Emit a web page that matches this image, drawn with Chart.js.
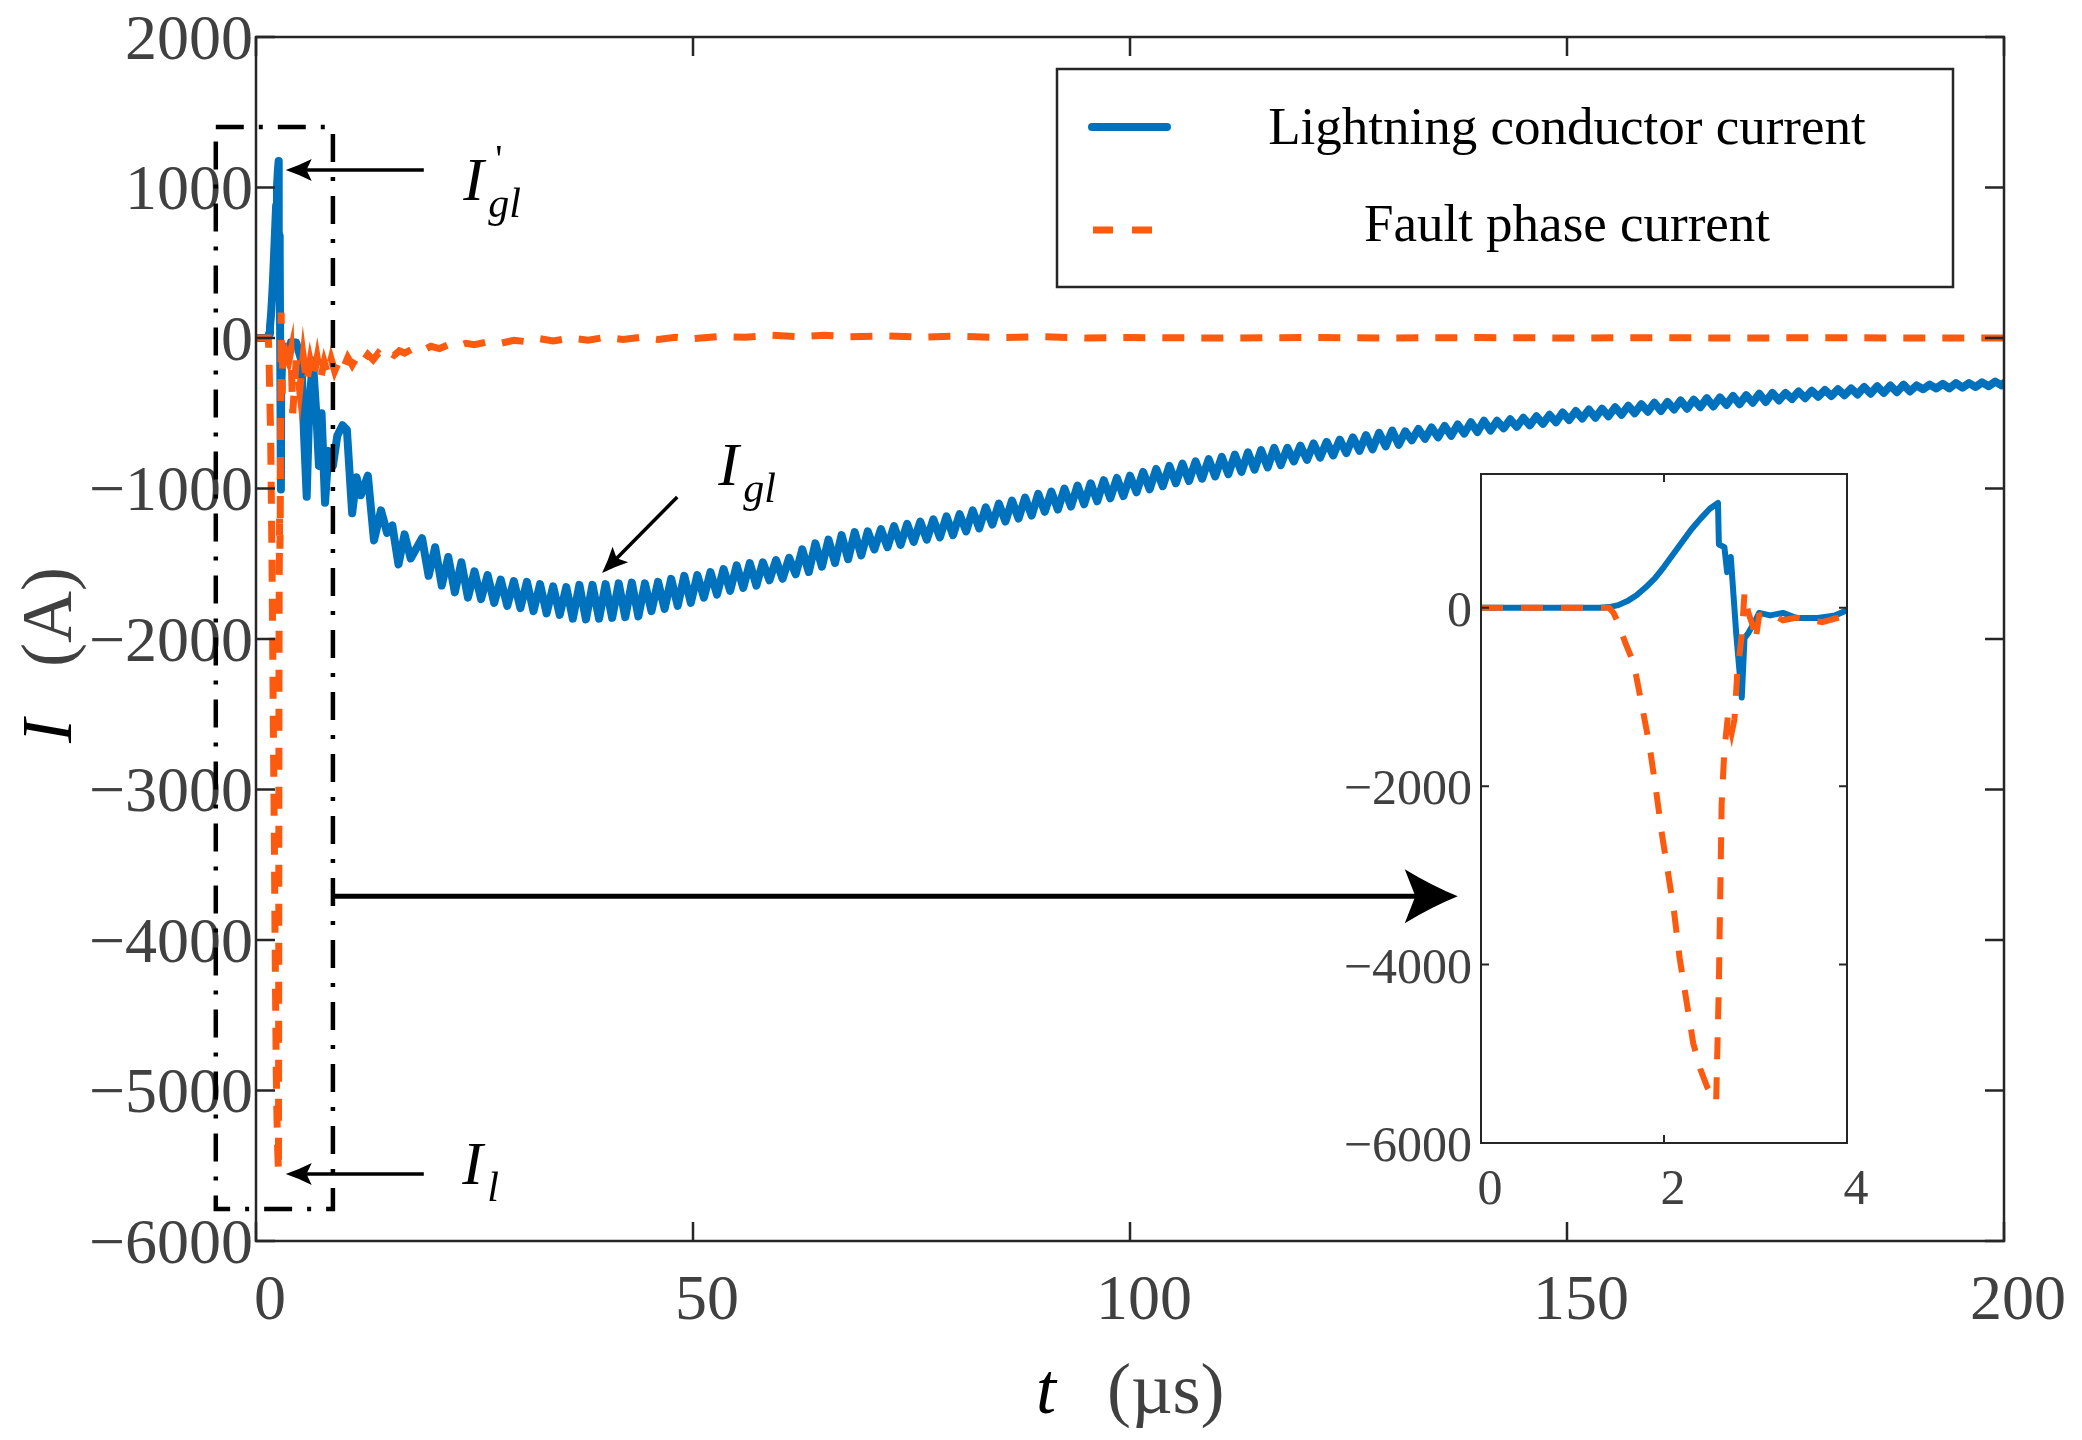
<!DOCTYPE html>
<html>
<head>
<meta charset="utf-8">
<script src="https://cdn.jsdelivr.net/npm/chart.js@4.4.1/dist/chart.umd.min.js"></script>
<style>
  body { margin: 0; background: #fff; }
  #wrap { position: relative; width: 2082px; height: 1440px; }
  #mainChart { position: absolute; left: 0; top: 0; }
  #insetChart { position: absolute; left: 1300px; top: 440px; }
</style>
</head>
<body>
<div id="wrap">
  <canvas id="mainChart" width="2082" height="1440"></canvas>
  <canvas id="insetChart" width="600" height="800"></canvas>
</div>
<script>
// Axis ticks
const xTicks = [0, 50, 100, 150, 200];
const yTicks = [-6000, -5000, -4000, -3000, -2000, -1000, 0, 1000, 2000];
const insetXTicks = [0, 2, 4];
const insetYTicks = [-6000, -4000, -2000, 0];

// First 4 µs of both currents [t (µs), I (A)] - drawn in the inset as well
const lightningStart = [[0,0],[1.3,0],[1.4,8],[1.5,30],[1.6,75],[1.7,140],[1.8,230],[1.9,330],[2.0,460],[2.1,600],[2.2,740],[2.3,880],[2.4,1000],[2.5,1110],[2.59,1176],[2.6,710],[2.66,680],[2.69,400],[2.73,570],[2.79,-300],[2.85,-1006],[2.88,-340],[2.92,-285],[3.0,-140],[3.04,-57],[3.16,-85],[3.3,-57],[3.45,-114],[3.68,-114],[3.87,-85],[4,-28]];
const faultStart = [[0,0],[1.4,0],[1.45,-60],[1.5,-170],[1.58,-400],[1.67,-625],[1.75,-1050],[1.84,-1534],[1.92,-2100],[1.98,-2556],[2.05,-3010],[2.11,-3408],[2.17,-3920],[2.24,-4374],[2.32,-4885],[2.4,-5180],[2.47,-5368],[2.57,-5540],[2.6,-4200],[2.63,-2200],[2.66,-1590],[2.7,-1200],[2.74,-1400],[2.77,-1250],[2.8,-750],[2.85,-300],[2.88,170],[2.92,-50],[2.97,-200],[3.0,-370],[3.04,-85],[3.16,-57],[3.3,-140],[3.45,-110],[3.59,-140],[3.73,-160],[3.87,-120],[4,-85]];

// Rest of the record, 4 - 200 µs
const lightningRest = [[4.6,-30],[5.2,-150],[5.5,-650],[5.8,-1055],[6.1,-450],[6.5,-150],[6.9,-500],[7.2,-850],[7.5,-500],[7.9,-1095],[8.3,-750],[8.8,-850],[9.3,-650],[9.9,-580],[10.4,-610],[11.0,-1165],[11.5,-925],[12.0,-1045],[12.8,-915],[13.5,-1345],[14.3,-1145],[15.0,-1295],[15.6,-1245],[16.3,-1505],[17.0,-1305],[17.7,-1465],
  [19,-1330],[19.75,-1580],[20.5,-1390],[21.25,-1645],[22,-1455],[22.75,-1690],[23.5,-1490],[24.25,-1725],[25,-1550],[25.75,-1735],[26.5,-1575],[27.25,-1760],[28,-1605],[28.75,-1780],[29.5,-1615],[30.25,-1795],[31,-1620],[31.75,-1815],[32.5,-1635],[33.25,-1830],[34,-1650],[34.75,-1840],[35.5,-1655],[36.25,-1865],[37,-1640],[37.75,-1870],[38.5,-1640],[39.25,-1865],[40,-1635],[40.75,-1860],[41.5,-1630],[42.25,-1855],[43,-1625],[43.75,-1850],[44.5,-1630],[45.25,-1815],[46,-1620],[46.75,-1800],[47.5,-1600],[48.25,-1780],[49,-1580],[49.75,-1760],
  [50.5,-1575],[51.25,-1725],[52,-1555],[52.75,-1705],[53.5,-1535],[54.25,-1680],[55,-1510],[55.75,-1660],[56.5,-1495],[57.25,-1645],[58,-1490],[58.75,-1610],[59.5,-1475],[60.25,-1600],[61,-1460],[61.75,-1570],[62.5,-1405],[63.25,-1555],[64,-1365],[64.75,-1520],[65.5,-1340],[66.25,-1495],[67,-1310],[67.75,-1470],[68.5,-1290],[69.25,-1445],[70,-1285],[70.75,-1405],[71.5,-1270],[72.25,-1390],[73,-1250],[73.75,-1375],[74.5,-1235],[75.25,-1355],[76,-1220],[76.75,-1340],[77.5,-1205],[78.25,-1325],[79,-1185],[79.75,-1310],
  [80.5,-1170],[81.25,-1285],[82,-1145],[82.75,-1265],[83.5,-1125],[84.25,-1240],[85,-1100],[85.75,-1220],[86.5,-1080],[87.25,-1200],[88,-1060],[88.75,-1180],[89.5,-1035],[90.25,-1155],[91,-1020],[91.75,-1140],[92.5,-1000],[93.25,-1120],[94,-980],[94.75,-1105],[95.5,-965],[96.25,-1085],[97,-945],[97.75,-1065],[98.5,-930],[99.25,-1050],[100,-915],[100.75,-1025],[101.5,-890],[102.25,-1005],[103,-870],[103.75,-985],[104.5,-850],[105.25,-965],[106,-835],[106.75,-950],[107.5,-820],[108.25,-935],[109,-805],[109.75,-920],
  [110.5,-790],[111.25,-905],[112,-775],[112.75,-890],[113.5,-760],[114.25,-875],[115,-745],[115.75,-860],[116.5,-730],[117.25,-845],[118,-730],[118.75,-820],[119.5,-715],[120.25,-810],[121,-700],[121.75,-795],[122.5,-690],[123.25,-780],[124,-675],[124.75,-765],[125.5,-660],[126.25,-750],[127,-645],[127.75,-740],[128.5,-630],[129.25,-720],[130,-615],[130.75,-710],[131.5,-620],[132.25,-680],[133,-605],[133.75,-670],[134.5,-595],[135.25,-660],[136,-585],[136.75,-650],[137.5,-575],[138.25,-635],[139,-560],[139.75,-625],
  [140.5,-550],[141.25,-615],[142,-550],[142.75,-600],[143.5,-540],[144.25,-590],[145,-530],[145.75,-580],[146.5,-520],[147.25,-570],[148,-510],[148.75,-560],[149.5,-495],[150.25,-545],[151,-485],[151.75,-535],[152.5,-475],[153.25,-530],[154,-470],[154.75,-520],[155.5,-460],[156.25,-510],[157,-450],[157.75,-500],[158.5,-440],[159.25,-490],[160,-430],[160.75,-485],[161.5,-425],[162.25,-475],[163,-415],[163.75,-470],[164.5,-410],[165.25,-460],[166,-400],[166.75,-455],[167.5,-395],[168.25,-445],[169,-385],[169.75,-440],
  [170.5,-380],[171.25,-430],[172,-370],[172.75,-425],[173.5,-365],[174.25,-415],[175,-365],[175.75,-405],[176.5,-355],[177.25,-400],[178,-350],[178.75,-390],[179.5,-345],[180.25,-385],[181,-340],[181.75,-380],[182.5,-335],[183.25,-375],[184,-325],[184.75,-370],[185.5,-320],[186.25,-365],[187,-315],[187.75,-360],[188.5,-310],[189.25,-355],[190,-315],[190.75,-340],[191.5,-310],[192.25,-335],[193,-305],[193.75,-335],[194.5,-300],[195.25,-330],[196,-300],[196.75,-325],[197.5,-295],[198.25,-320],[199,-290],[199.75,-315],[200,-300]];
const faultRest = [[4.2,-500],[4.6,-150],[5.0,-350],[5.4,-120],[5.8,-300],[6.2,-150],[6.6,-260],[7.0,-130],[7.4,-270],[7.8,-160],[8.2,-240],[8.6,-140],[9.0,-220],[9.5,-150],[10,-200],[10.5,-130],[11,-180],[11.6,-120],[12.2,-160],[12.8,-110],[13.4,-145],[14,-100],[14.6,-130],[15.2,-95],[15.8,-115],[16.4,-85],[17,-100],[18,-70],[19,-85],[20,-55],[21,-70],[22,-45],[23,-55],[24,-35],[25,-45],[26.5,-25],[28,-35],[29.5,-15],[31,-25],[32.5,-5],[34,-20],[36,0],[38,-15],[40,5],[42,-10],[44,5],[46,-10],[48,5],[50,-5],[53,10],[56,5],[59,18],[62,8],[65,18],[68,8],[72,15],[76,5],[80,12],[85,3],[90,8],[95,0],[100,3],[110,0],[120,3],[130,0],[140,3],[150,0],[160,2],[170,0],[180,2],[190,0],[200,0]];

// Annotations, in data units (t, I)
const zoomBox = { t0: -4.6, t1: 8.8, i0: -5788, i1: 1402 };
const bigArrow = [8.8, -3710, 137.5, -3710];
const peakArrows = [[19.2, 1116, 3.4, 1116], [19.2, -5555, 3.4, -5555], [48.2, -1057, 39.6, -1562]];
const symbols = [{ t: 23.7, i: 917, sub: 'gl', prime: true }, { t: 23.6, i: -5622, sub: 'l', prime: false }, { t: 52.9, i: -977, sub: 'gl', prime: false }];

const SERIF = "'Liberation Serif', 'Times New Roman', serif";
const BLUE = '#0072BD';
const ORANGE = '#FC5A0E';
const GRAY = '#404040';
const FRAME = '#262626';
Chart.defaults.font.family = SERIF;

const toXY = pts => pts.map(([x, y]) => ({ x, y }));
const fmt = v => (v < 0 ? '\u2212' + Math.abs(v) : String(v));
const setTicks = list => scale => { scale.ticks = list.map(v => ({ value: v })); };

// box round the axes with inward ticks on all four sides (MATLAB look)
const boxPlugin = {
  id: 'box',
  afterDraw(chart, args, opts) {
    const { ctx, chartArea: a, scales: { x, y } } = chart;
    ctx.save();
    ctx.strokeStyle = FRAME;
    ctx.lineWidth = opts.width;
    ctx.strokeRect(a.left, a.top, a.right - a.left, a.bottom - a.top);
    ctx.beginPath();
    x.ticks.forEach(t => {
      const p = x.getPixelForValue(t.value);
      ctx.moveTo(p, a.bottom); ctx.lineTo(p, a.bottom - opts.len);
      ctx.moveTo(p, a.top); ctx.lineTo(p, a.top + opts.len);
    });
    y.ticks.forEach(t => {
      const p = y.getPixelForValue(t.value);
      ctx.moveTo(a.left, p); ctx.lineTo(a.left + opts.len, p);
      ctx.moveTo(a.right, p); ctx.lineTo(a.right - opts.len, p);
    });
    ctx.stroke();
    ctx.restore();
  }
};

function arrow(ctx, x1, y1, x2, y2, lw, hl, hw) {
  const a = Math.atan2(y2 - y1, x2 - x1);
  const len = Math.hypot(x2 - x1, y2 - y1);
  ctx.save();
  ctx.translate(x1, y1);
  ctx.rotate(a);
  ctx.lineWidth = lw;
  ctx.beginPath(); ctx.moveTo(0, 0); ctx.lineTo(len - hl * 0.6, 0); ctx.stroke();
  ctx.beginPath();
  ctx.moveTo(len, 0);
  ctx.quadraticCurveTo(len - hl * 0.5, -hw * 0.4, len - hl, -hw);
  ctx.lineTo(len - hl * 0.8, 0);
  ctx.lineTo(len - hl, hw);
  ctx.quadraticCurveTo(len - hl * 0.5, hw * 0.4, len, 0);
  ctx.fill();
  ctx.restore();
}

const notesPlugin = {
  id: 'notes',
  afterDraw(chart) {
    const { ctx, scales: { x, y } } = chart;
    const px = t => x.getPixelForValue(t);
    const py = v => y.getPixelForValue(v);
    ctx.save();
    ctx.strokeStyle = '#000';
    ctx.fillStyle = '#000';

    // dash-dot window round the first microseconds
    ctx.lineWidth = 4.5;
    ctx.setLineDash([28, 15, 4, 15]);
    ctx.strokeRect(px(zoomBox.t0), py(zoomBox.i1), px(zoomBox.t1) - px(zoomBox.t0), py(zoomBox.i0) - py(zoomBox.i1));
    ctx.setLineDash([]);

    arrow(ctx, px(bigArrow[0]), py(bigArrow[1]), px(bigArrow[2]), py(bigArrow[3]), 5, 53, 27);
    peakArrows.forEach(([t0, i0, t1, i1]) => arrow(ctx, px(t0), py(i0), px(t1), py(i1), 3.5, 26, 11));

    ctx.textAlign = 'left';
    ctx.textBaseline = 'alphabetic';
    symbols.forEach(s => {
      const x0 = px(s.t), y0 = py(s.i);
      ctx.font = 'italic 62px ' + SERIF;
      ctx.fillText('I', x0, y0);
      ctx.font = 'italic 42px ' + SERIF;
      ctx.fillText(s.sub, x0 + 25, y0 + 17);
      if (s.prime) {
        ctx.font = '40px ' + SERIF;
        ctx.fillText("'", x0 + 32, y0 - 28);
      }
    });

    // legend
    ctx.fillStyle = '#fff';
    ctx.fillRect(1057, 69, 896, 218);
    ctx.strokeStyle = FRAME;
    ctx.lineWidth = 2.5;
    ctx.strokeRect(1057, 69, 896, 218);
    ctx.lineCap = 'round';
    ctx.strokeStyle = BLUE;
    ctx.lineWidth = 8;
    ctx.beginPath(); ctx.moveTo(1092, 127); ctx.lineTo(1167, 127); ctx.stroke();
    ctx.lineCap = 'butt';
    ctx.strokeStyle = ORANGE;
    ctx.lineWidth = 7;
    ctx.setLineDash([20, 19]);
    ctx.beginPath(); ctx.moveTo(1093, 230); ctx.lineTo(1153, 230); ctx.stroke();
    ctx.setLineDash([]);
    ctx.fillStyle = '#000';
    ctx.textAlign = 'center';
    ctx.font = '53px ' + SERIF;
    ctx.fillText(chart.data.datasets[0].label, 1567, 144);
    ctx.fillText(chart.data.datasets[1].label, 1567, 241);

    // axis titles: italic symbol in black, unit in grey
    ctx.textAlign = 'left';
    ctx.font = 'italic 72px ' + SERIF;
    ctx.fillStyle = '#000';
    ctx.fillText('t', 1036, 1413);
    ctx.font = '72px ' + SERIF;
    ctx.fillStyle = GRAY;
    ctx.fillText('(\u00b5s)', 1107, 1413);
    ctx.translate(71, 743);
    ctx.rotate(-Math.PI / 2);
    ctx.font = 'italic 72px ' + SERIF;
    ctx.fillStyle = '#000';
    ctx.fillText('I', 0, 0);
    ctx.font = '72px ' + SERIF;
    ctx.fillStyle = GRAY;
    ctx.fillText('(A)', 76, 0);
    ctx.restore();
  }
};

const insetBg = {
  id: 'insetBg',
  beforeDraw(chart) {
    const { ctx, chartArea: a } = chart;
    ctx.save();
    ctx.fillStyle = '#fff';
    ctx.fillRect(a.left, a.top, a.right - a.left, a.bottom - a.top);
    ctx.restore();
  }
};

// Main chart
new Chart(document.getElementById('mainChart'), {
  type: 'line',
  data: {
    datasets: [{
      label: 'Lightning conductor current',
      data: toXY(lightningStart.concat(lightningRest)),
      borderColor: BLUE,
      borderWidth: 8,
      borderCapStyle: 'round',
      borderJoinStyle: 'round',
      pointRadius: 0,
      order: 1
    }, {
      label: 'Fault phase current',
      data: toXY(faultStart.concat(faultRest)),
      borderColor: ORANGE,
      borderWidth: 7,
      borderDash: [22, 17],
      pointRadius: 0,
      order: 0
    }]
  },
  options: {
    responsive: false,
    animation: false,
    events: [],
    layout: { padding: { top: 37, right: 78, left: 0, bottom: 0 } },
    scales: {
      x: {
        type: 'linear', min: 0, max: 200,
        afterBuildTicks: setTicks(xTicks),
        afterFit: s => { s.height = 199; },
        grid: { display: false, drawTicks: false },
        border: { display: false },
        ticks: { font: { size: 64, lineHeight: 1 }, color: GRAY, padding: 29, labelOffset: 14, maxRotation: 0, autoSkip: false }
      },
      y: {
        type: 'linear', min: -6000, max: 2000,
        afterBuildTicks: setTicks(yTicks),
        afterFit: s => { s.width = 256; },
        grid: { display: false, drawTicks: false },
        border: { display: false },
        ticks: { font: { size: 64, lineHeight: 1 }, color: GRAY, padding: 3, labelOffset: 5, autoSkip: false, callback: fmt }
      }
    },
    plugins: {
      legend: { display: false },
      tooltip: { enabled: false },
      box: { width: 2.5, len: 19 }
    }
  },
  plugins: [boxPlugin, notesPlugin]
});

// Inset: zoom on 0 - 4 µs
new Chart(document.getElementById('insetChart'), {
  type: 'line',
  data: {
    datasets: [{
      label: 'Lightning conductor current',
      data: toXY(lightningStart),
      borderColor: BLUE,
      borderWidth: 6,
      borderCapStyle: 'round',
      borderJoinStyle: 'round',
      pointRadius: 0,
      order: 1
    }, {
      label: 'Fault phase current',
      data: toXY(faultStart),
      borderColor: ORANGE,
      borderWidth: 6,
      borderDash: [22, 18],
      pointRadius: 0,
      order: 0
    }]
  },
  options: {
    responsive: false,
    animation: false,
    events: [],
    layout: { padding: { top: 29, right: 53, left: 0, bottom: 0 } },
    scales: {
      x: {
        type: 'linear', min: 0, max: 4,
        afterBuildTicks: setTicks(insetXTicks),
        afterFit: s => { s.height = 97; },
        grid: { display: false, drawTicks: false },
        border: { display: false },
        ticks: { font: { size: 50, lineHeight: 1 }, color: GRAY, padding: 23, labelOffset: 9, maxRotation: 0, autoSkip: false }
      },
      y: {
        type: 'linear', min: -6000, max: 1500,
        afterBuildTicks: setTicks(insetYTicks),
        afterFit: s => { s.width = 181; },
        grid: { display: false, drawTicks: false },
        border: { display: false },
        ticks: { font: { size: 50, lineHeight: 1 }, color: GRAY, padding: 9, labelOffset: 5, autoSkip: false, callback: fmt }
      }
    },
    plugins: {
      legend: { display: false },
      tooltip: { enabled: false },
      box: { width: 2, len: 8 }
    }
  },
  plugins: [insetBg, boxPlugin]
});
</script>
</body>
</html>
